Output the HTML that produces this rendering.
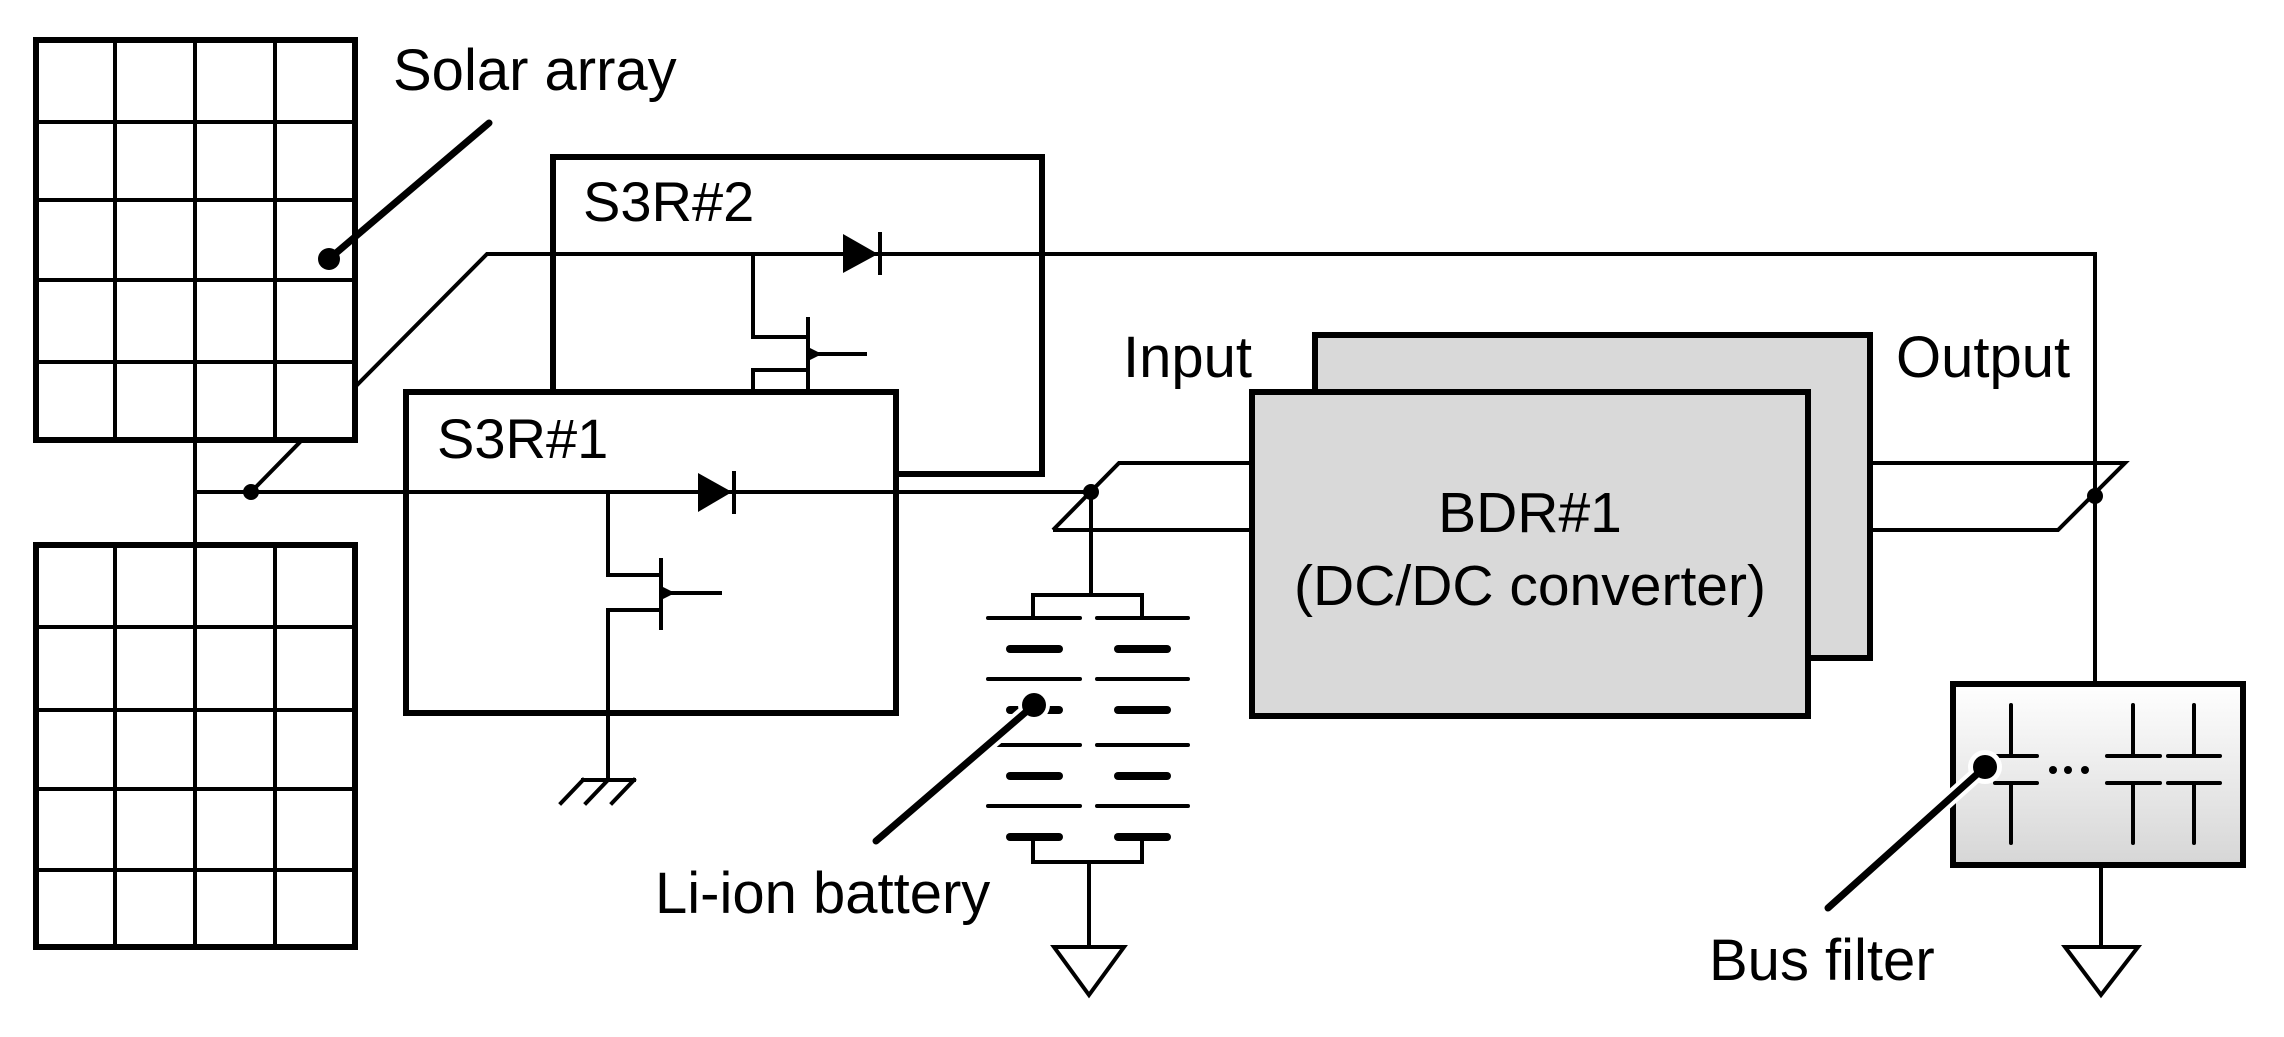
<!DOCTYPE html>
<html><head><meta charset="utf-8"><style>
html,body{margin:0;padding:0;background:#fff;}
svg{display:block;}
text{font-family:"Liberation Sans",Arial,sans-serif;fill:#000;}
</style></head><body>
<svg width="2284" height="1037" viewBox="0 0 2284 1037" xmlns="http://www.w3.org/2000/svg">
<defs>
<linearGradient id="g" x1="0" y1="0" x2="0" y2="1"><stop offset="0" stop-color="#ffffff"/><stop offset="1" stop-color="#d6d6d6"/></linearGradient>
</defs>
<rect width="2284" height="1037" fill="#fff"/>
<g stroke="#000" fill="none" stroke-linecap="square">
<rect x="36" y="40" width="319" height="400" stroke-width="6"/>
<g stroke-width="4">
<line x1="115" y1="40" x2="115" y2="440"/><line x1="195" y1="40" x2="195" y2="440"/><line x1="275" y1="40" x2="275" y2="440"/>
<line x1="36" y1="122" x2="355" y2="122"/><line x1="36" y1="200" x2="355" y2="200"/><line x1="36" y1="280" x2="355" y2="280"/><line x1="36" y1="362" x2="355" y2="362"/>
</g>
<rect x="36" y="545" width="319" height="402" stroke-width="6"/>
<g stroke-width="4">
<line x1="115" y1="545" x2="115" y2="947"/><line x1="195" y1="545" x2="195" y2="947"/><line x1="275" y1="545" x2="275" y2="947"/>
<line x1="36" y1="627" x2="355" y2="627"/><line x1="36" y1="710" x2="355" y2="710"/><line x1="36" y1="789" x2="355" y2="789"/><line x1="36" y1="870" x2="355" y2="870"/>
</g>
<rect x="553" y="157" width="489" height="317" stroke-width="6"/>
<rect x="406" y="392" width="490" height="321" stroke-width="6" fill="#fff"/>
<g stroke-width="4">
<line x1="195" y1="440" x2="195" y2="545"/>
<line x1="195" y1="492" x2="1091" y2="492"/>
<line x1="251" y1="492" x2="302" y2="440"/>
<polyline points="357,385 487,254 2095,254 2095,684"/>
</g>
<g stroke-width="4">
<polyline points="753,254 753,337 808,337"/>
<line x1="808" y1="319" x2="808" y2="392"/>
<polyline points="753,392 753,370 808,370"/>
<line x1="815" y1="354" x2="865" y2="354"/>
<polyline points="608,492 608,575 661,575"/>
<line x1="661" y1="560" x2="661" y2="628"/>
<polyline points="661,610 608,610 608,780"/>
<line x1="668" y1="593" x2="720" y2="593"/>
<line x1="583" y1="780" x2="634" y2="780"/>
<line x1="583" y1="780" x2="561" y2="803"/>
<line x1="608" y1="780" x2="586" y2="803"/>
<line x1="634" y1="780" x2="612" y2="803"/>
<line x1="880" y1="234" x2="880" y2="273"/>
<line x1="734" y1="473" x2="734" y2="512"/>
</g>
</g>
<polygon points="843,234 878,254 843,273" fill="#000"/>
<polygon points="698,473 732,492 698,512" fill="#000"/>
<polygon points="808,347 822,354 808,361" fill="#000"/>
<polygon points="661,586 675,593 661,600" fill="#000"/>
<circle cx="251" cy="492" r="8" fill="#000"/>
<text x="437" y="458" font-size="56">S3R#1</text>
<text x="583" y="221" font-size="56">S3R#2</text>
<text x="393" y="90" font-size="58">Solar array</text>
<line x1="489" y1="123" x2="329" y2="259" stroke="#000" stroke-width="7" stroke-linecap="round"/>
<circle cx="329" cy="259" r="11" fill="#000"/>

<g stroke="#000" fill="none" stroke-width="4">
<polyline points="1053,530 1119,463 1252,463"/>
<line x1="1053" y1="530" x2="1252" y2="530"/>
<line x1="1091" y1="492" x2="1091" y2="595"/>
<polyline points="1870,463 2125,463 2058,530 1808,530"/>
</g>
<rect x="1315" y="335" width="555" height="323" fill="#d9d9d9" stroke="#000" stroke-width="6"/>
<rect x="1252" y="392" width="556" height="324" fill="#d9d9d9" stroke="#000" stroke-width="6"/>
<circle cx="1091" cy="492" r="8" fill="#000"/>
<circle cx="2095" cy="496" r="8" fill="#000"/>
<text x="1530" y="532" font-size="57" text-anchor="middle">BDR#1</text>
<text x="1530" y="605" font-size="57" text-anchor="middle">(DC/DC converter)</text>
<text x="1123" y="377" font-size="58">Input</text>
<text x="1896" y="377" font-size="58">Output</text>

<g stroke="#000" fill="none" stroke-width="4">
<polyline points="1033,618 1033,595 1142,595 1142,618"/>
<polyline points="1033,837 1033,862 1142,862 1142,837"/>
<line x1="1089" y1="862" x2="1089" y2="947"/>
<polygon points="1054,947 1124,947 1089,995"/>
</g>
<g stroke="#000" stroke-width="4" stroke-linecap="round">
<line x1="988" y1="618" x2="1080" y2="618"/><line x1="1097" y1="618" x2="1188" y2="618"/>
<line x1="988" y1="679" x2="1080" y2="679"/><line x1="1097" y1="679" x2="1188" y2="679"/>
<line x1="988" y1="745" x2="1080" y2="745"/><line x1="1097" y1="745" x2="1188" y2="745"/>
<line x1="988" y1="806" x2="1080" y2="806"/><line x1="1097" y1="806" x2="1188" y2="806"/>
</g>
<g stroke="#000" stroke-width="8" stroke-linecap="round">
<line x1="1010" y1="649" x2="1059" y2="649"/><line x1="1118" y1="649" x2="1167" y2="649"/>
<line x1="1010" y1="710" x2="1059" y2="710"/><line x1="1118" y1="710" x2="1167" y2="710"/>
<line x1="1010" y1="776" x2="1059" y2="776"/><line x1="1118" y1="776" x2="1167" y2="776"/>
<line x1="1010" y1="837" x2="1059" y2="837"/><line x1="1118" y1="837" x2="1167" y2="837"/>
</g>
<line x1="1034" y1="705" x2="876" y2="841" stroke="#fff" stroke-width="15" stroke-linecap="round"/>
<circle cx="1034" cy="705" r="16" fill="#fff"/>
<line x1="1034" y1="705" x2="876" y2="841" stroke="#000" stroke-width="7" stroke-linecap="round"/>
<circle cx="1034" cy="705" r="12" fill="#000"/>
<text x="655" y="913" font-size="58">Li-ion battery</text>

<rect x="1953" y="684" width="290" height="181" fill="url(#g)" stroke="#000" stroke-width="6"/>
<g stroke="#000" stroke-width="4" stroke-linecap="round">
<line x1="2011" y1="705" x2="2011" y2="756"/><line x1="2011" y1="783" x2="2011" y2="843"/>
<line x1="1995" y1="756" x2="2037" y2="756"/><line x1="1995" y1="783" x2="2037" y2="783"/>
<line x1="2133" y1="705" x2="2133" y2="756"/><line x1="2133" y1="783" x2="2133" y2="843"/>
<line x1="2107" y1="756" x2="2160" y2="756"/><line x1="2107" y1="783" x2="2160" y2="783"/>
<line x1="2194" y1="705" x2="2194" y2="756"/><line x1="2194" y1="783" x2="2194" y2="843"/>
<line x1="2168" y1="756" x2="2220" y2="756"/><line x1="2168" y1="783" x2="2220" y2="783"/>
</g>
<circle cx="2053" cy="770" r="4" fill="#000"/><circle cx="2068" cy="770" r="4" fill="#000"/><circle cx="2085" cy="770" r="4" fill="#000"/>
<g stroke="#000" fill="none" stroke-width="4">
<line x1="2101" y1="865" x2="2101" y2="947"/>
<polygon points="2065,947 2138,947 2101,995"/>
</g>
<line x1="1985" y1="767" x2="1828" y2="908" stroke="#fff" stroke-width="15" stroke-linecap="round"/>
<circle cx="1985" cy="767" r="17" fill="#fff"/>
<line x1="1985" y1="767" x2="1828" y2="908" stroke="#000" stroke-width="7" stroke-linecap="round"/>
<circle cx="1985" cy="767" r="12" fill="#000"/>
<text x="1709" y="980" font-size="58">Bus filter</text>
</svg>
</body></html>
